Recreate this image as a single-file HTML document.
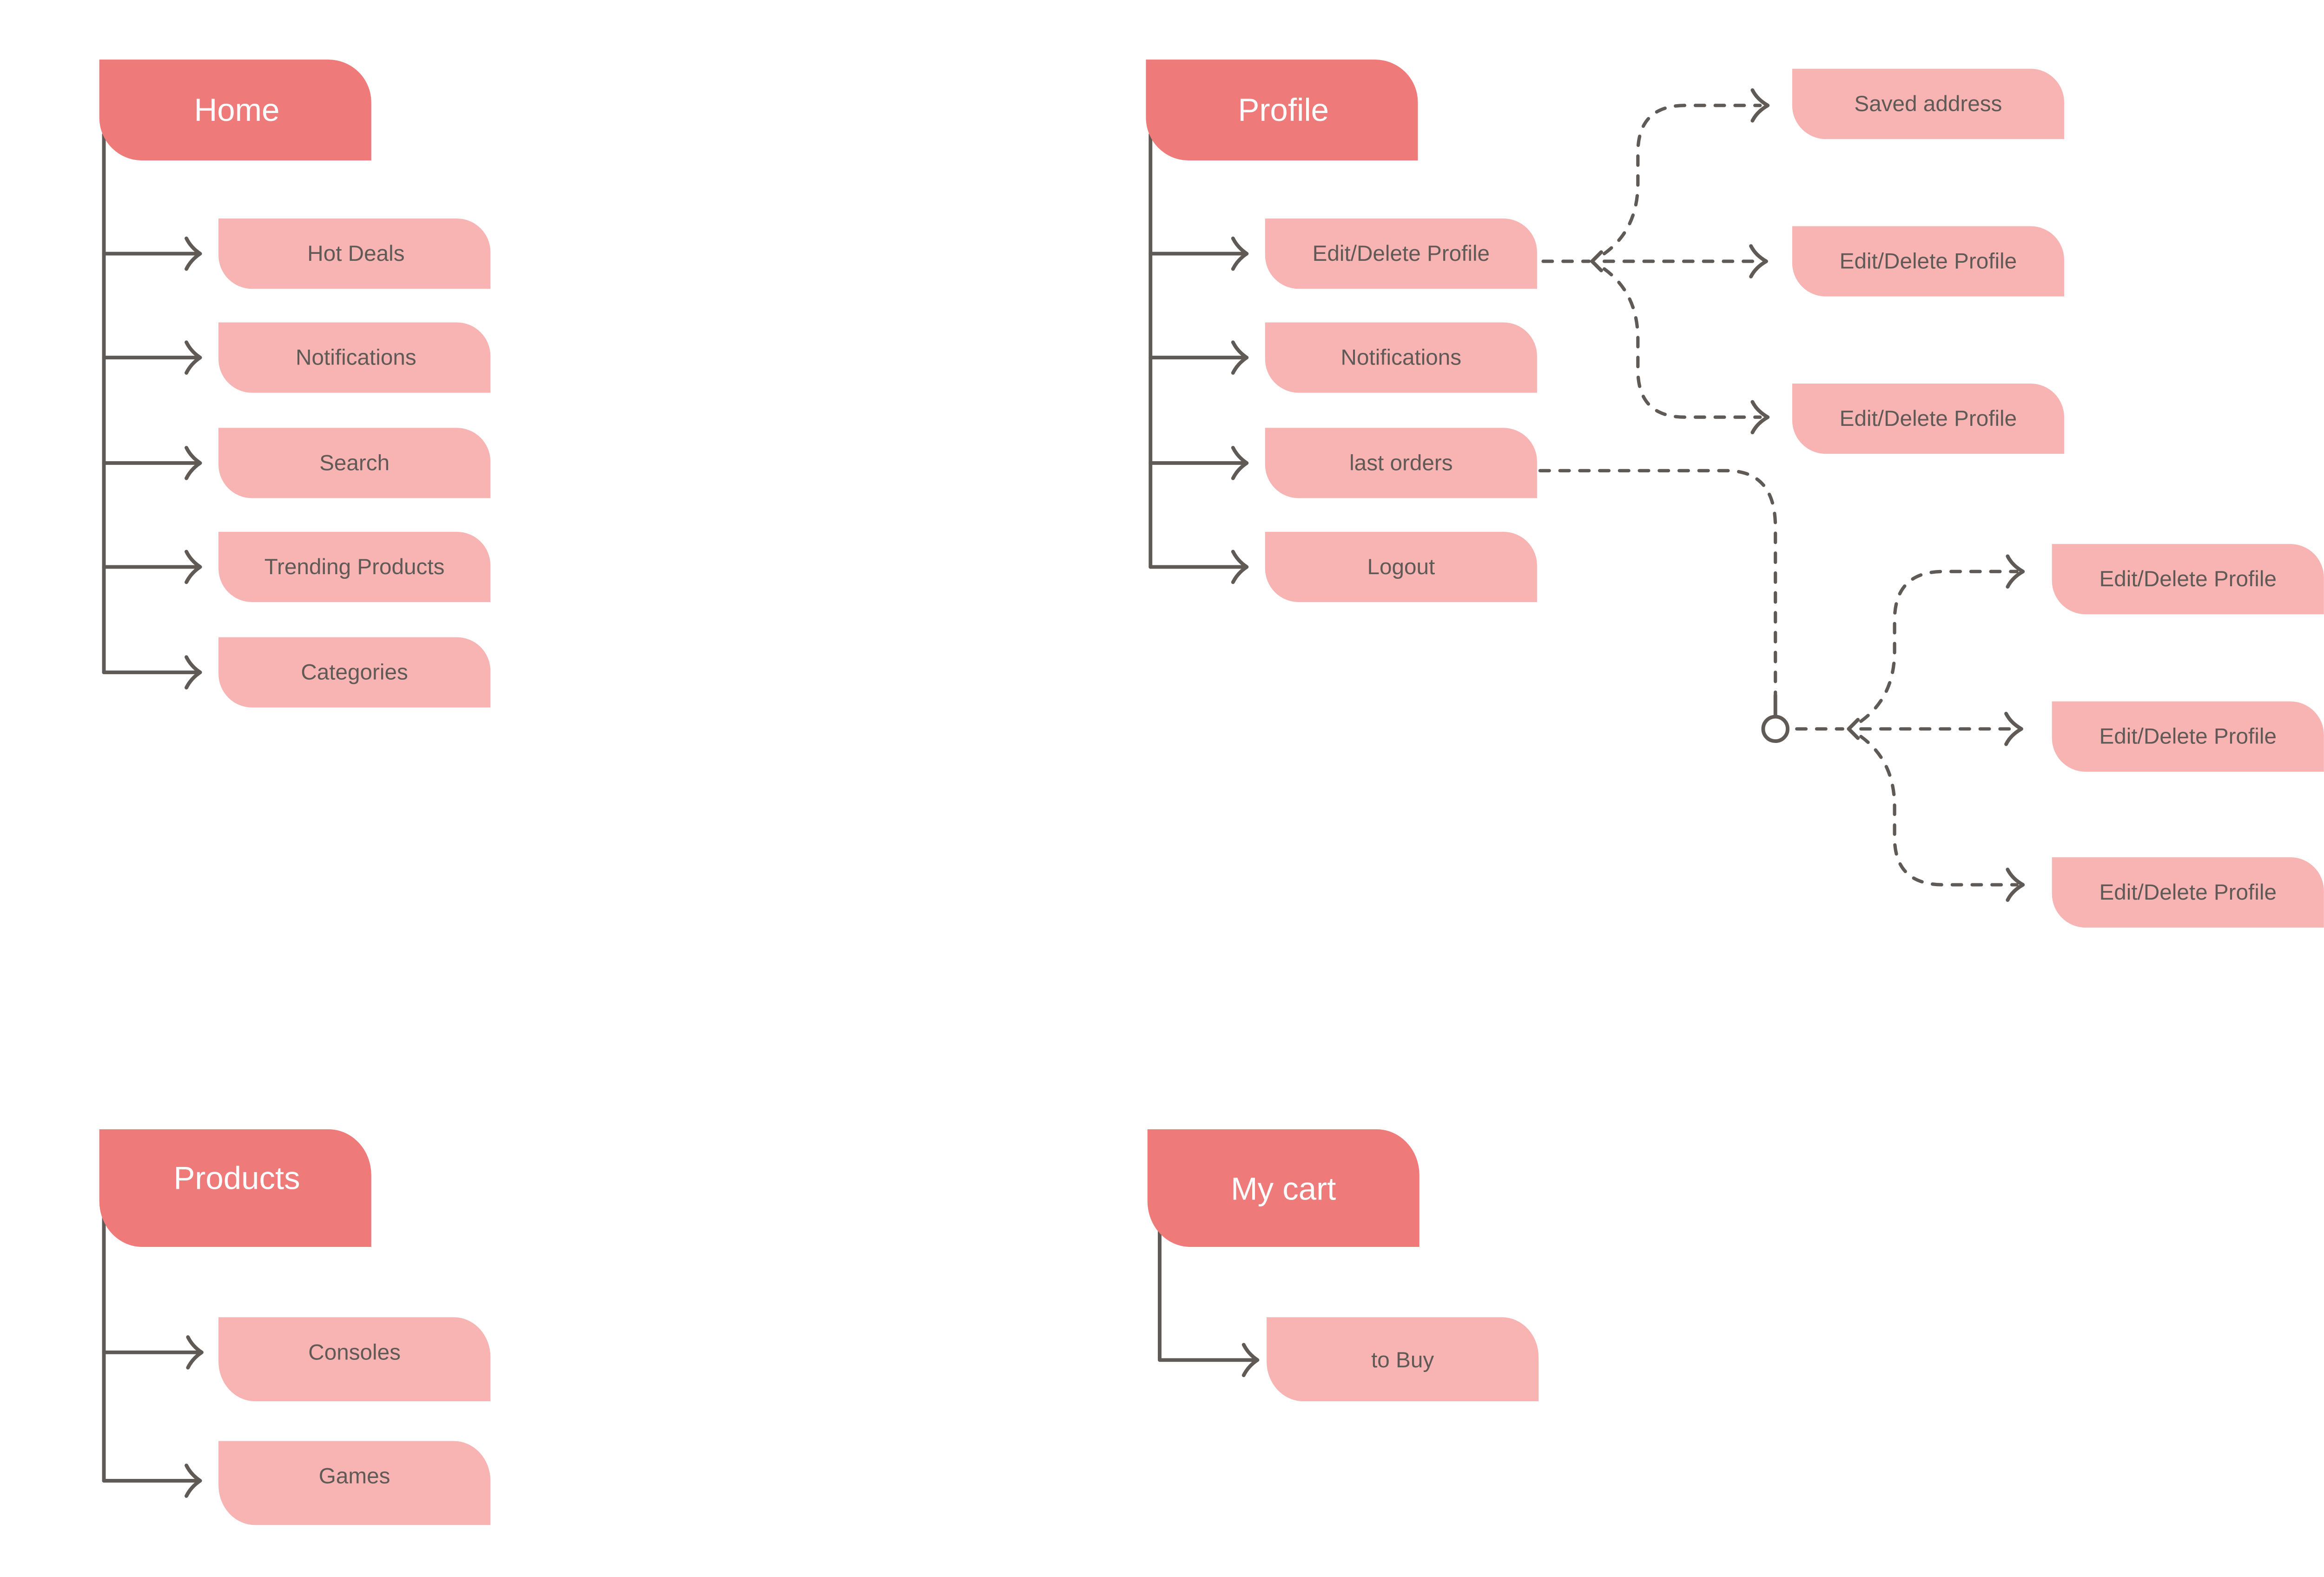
<!DOCTYPE html>
<html><head><meta charset="utf-8"><style>
html,body{margin:0;padding:0;background:#fff;}
svg{display:block;}
text{font-family:"Liberation Sans",sans-serif;}
</style></head><body>
<svg width="5128" height="3392" viewBox="0 0 1560 1032" preserveAspectRatio="none" xmlns="http://www.w3.org/2000/svg">
<defs>
<style>
.h{fill:#ee7a79}
.c{fill:#f8b3b3}
.ht{fill:#fff;font-size:21px;text-anchor:middle;dominant-baseline:central}
.ct{fill:#5f5a56;font-size:14.5px;text-anchor:middle;dominant-baseline:central}
.l{stroke:#5f5a56;stroke-width:2.4;fill:none;stroke-linecap:round;stroke-linejoin:round}
.d{stroke:#5f5a56;stroke-width:2.2;fill:none;stroke-linecap:round;stroke-dasharray:6 7}
</style>
</defs>
<!-- helper: box path: M x y H x+w-r A r r 0 0 1 x+w y+r V y+h H x+r A r r 0 0 1 x y+h-r Z -->

<!-- HOME -->
<path class="l" d="M68 88 V440"/>
<g class="l">
<path d="M68 166 H131 M122 156 Q125 162 131 166 Q125 170 122 176"/>
<path d="M68 234 H131 M122 224 Q125 230 131 234 Q125 238 122 244"/>
<path d="M68 303 H131 M122 293 Q125 299 131 303 Q125 307 122 313"/>
<path d="M68 371 H131 M122 361 Q125 367 131 371 Q125 375 122 381"/>
<path d="M68 440 H131 M122 430 Q125 436 131 440 Q125 444 122 450"/>
</g>
<path class="h" d="M65 39 H215 A28 28 0 0 1 243 67 V105 H93 A28 28 0 0 1 65 77 Z"/>
<text class="ht" x="155" y="72">Home</text>
<path class="c" d="M143 143 H299 A22 22 0 0 1 321 165 V189 H165 A22 22 0 0 1 143 167 Z"/>
<text class="ct" x="233" y="166">Hot Deals</text>
<path class="c" d="M143 211 H299 A22 22 0 0 1 321 233 V257 H165 A22 22 0 0 1 143 235 Z"/>
<text class="ct" x="233" y="234">Notifications</text>
<path class="c" d="M143 280 H299 A22 22 0 0 1 321 302 V326 H165 A22 22 0 0 1 143 304 Z"/>
<text class="ct" x="232" y="303">Search</text>
<path class="c" d="M143 348 H299 A22 22 0 0 1 321 370 V394 H165 A22 22 0 0 1 143 372 Z"/>
<text class="ct" x="232" y="371">Trending Products</text>
<path class="c" d="M143 417 H299 A22 22 0 0 1 321 439 V463 H165 A22 22 0 0 1 143 441 Z"/>
<text class="ct" x="232" y="440">Categories</text>

<!-- PROFILE -->
<path class="l" d="M753 88 V371"/>
<g class="l">
<path d="M753 166 H816 M807 156 Q810 162 816 166 Q810 170 807 176"/>
<path d="M753 234 H816 M807 224 Q810 230 816 234 Q810 238 807 244"/>
<path d="M753 303 H816 M807 293 Q810 299 816 303 Q810 307 807 313"/>
<path d="M753 371 H816 M807 361 Q810 367 816 371 Q810 375 807 381"/>
</g>
<path class="h" d="M750 39 H900 A28 28 0 0 1 928 67 V105 H778 A28 28 0 0 1 750 77 Z"/>
<text class="ht" x="840" y="72">Profile</text>
<path class="c" d="M828 143 H984 A22 22 0 0 1 1006 165 V189 H850 A22 22 0 0 1 828 167 Z"/>
<text class="ct" x="917" y="166">Edit/Delete Profile</text>
<path class="c" d="M828 211 H984 A22 22 0 0 1 1006 233 V257 H850 A22 22 0 0 1 828 235 Z"/>
<text class="ct" x="917" y="234">Notifications</text>
<path class="c" d="M828 280 H984 A22 22 0 0 1 1006 302 V326 H850 A22 22 0 0 1 828 304 Z"/>
<text class="ct" x="917" y="303">last orders</text>
<path class="c" d="M828 348 H984 A22 22 0 0 1 1006 370 V394 H850 A22 22 0 0 1 828 372 Z"/>
<text class="ct" x="917" y="371">Logout</text>

<!-- profile dashed fork 1 -->
<path class="d" d="M1010 171 H1040"/>
<path class="d" d="M1050 171 H1152"/>
<path class="d" d="M1050 166 Q1072 150 1072 120 V100 Q1072 69 1103 69 H1152"/>
<path class="d" d="M1050 176 Q1072 192 1072 222 V242 Q1072 273 1103 273 H1152"/>
<g class="l">
<path d="M1048 165 Q1044 169 1042 171 Q1044 173 1048 177"/>
<path d="M1147 59 Q1150 65 1157 69 Q1150 73 1147 79"/>
<path d="M1146 161 Q1149 167 1156 171 Q1149 175 1146 181"/>
<path d="M1147 263 Q1150 269 1157 273 Q1150 277 1147 283"/>
</g>
<path class="c" d="M1173 45 H1329 A22 22 0 0 1 1351 67 V91 H1195 A22 22 0 0 1 1173 69 Z"/>
<text class="ct" x="1262" y="68">Saved address</text>
<path class="c" d="M1173 148 H1329 A22 22 0 0 1 1351 170 V194 H1195 A22 22 0 0 1 1173 172 Z"/>
<text class="ct" x="1262" y="171">Edit/Delete Profile</text>
<path class="c" d="M1173 251 H1329 A22 22 0 0 1 1351 273 V297 H1195 A22 22 0 0 1 1173 275 Z"/>
<text class="ct" x="1262" y="274">Edit/Delete Profile</text>

<!-- last orders dashed -->
<path class="d" d="M1008 308 H1130 Q1162 308 1162 345 V455"/>
<path class="l" d="M1162 455 V468"/>
<circle cx="1162" cy="477" r="8" fill="#fff" stroke="#5f5a56" stroke-width="2.4"/>
<path class="d" d="M1176 477 H1206"/>
<path class="d" d="M1218 477 H1320"/>
<path class="d" d="M1218 472 Q1240 456 1240 426 V406 Q1240 374 1272 374 H1320"/>
<path class="d" d="M1218 482 Q1240 498 1240 528 V548 Q1240 579 1272 579 H1320"/>
<g class="l">
<path d="M1216 471 Q1212 475 1210 477 Q1212 479 1216 483"/>
<path d="M1314 364 Q1317 370 1324 374 Q1317 378 1314 384"/>
<path d="M1313 467 Q1316 473 1323 477 Q1316 481 1313 487"/>
<path d="M1314 569 Q1317 575 1324 579 Q1317 583 1314 589"/>
</g>
<path class="c" d="M1343 356 H1499 A22 22 0 0 1 1521 378 V402 H1365 A22 22 0 0 1 1343 380 Z"/>
<text class="ct" x="1432" y="379">Edit/Delete Profile</text>
<path class="c" d="M1343 459 H1499 A22 22 0 0 1 1521 481 V505 H1365 A22 22 0 0 1 1343 483 Z"/>
<text class="ct" x="1432" y="482">Edit/Delete Profile</text>
<path class="c" d="M1343 561 H1499 A22 22 0 0 1 1521 583 V607 H1365 A22 22 0 0 1 1343 585 Z"/>
<text class="ct" x="1432" y="584">Edit/Delete Profile</text>

<!-- PRODUCTS -->
<path class="l" d="M68 795 V969"/>
<g class="l">
<path d="M68 885 H132 M123 875 Q126 881 132 885 Q126 889 123 895"/>
<path d="M68 969 H131 M122 959 Q125 965 131 969 Q125 973 122 979"/>
</g>
<path class="h" d="M65 739 H215 A28 30 0 0 1 243 769 V816 H93 A28 30 0 0 1 65 786 Z"/>
<text class="ht" x="155" y="771">Products</text>
<path class="c" d="M143 862 H297 A24 26 0 0 1 321 888 V917 H167 A24 26 0 0 1 143 891 Z"/>
<text class="ct" x="232" y="885">Consoles</text>
<path class="c" d="M143 943 H297 A24 26 0 0 1 321 969 V998 H167 A24 26 0 0 1 143 972 Z"/>
<text class="ct" x="232" y="966">Games</text>

<!-- MY CART -->
<path class="l" d="M759 800 V890 H823 M814 880 Q817 886 823 890 Q817 894 814 900"/>
<path class="h" d="M751 739 H901 A28 30 0 0 1 929 769 V816 H779 A28 30 0 0 1 751 786 Z"/>
<text class="ht" x="840" y="778">My cart</text>
<path class="c" d="M829 862 H983 A24 26 0 0 1 1007 888 V917 H853 A24 26 0 0 1 829 891 Z"/>
<text class="ct" x="918" y="890">to Buy</text>
</svg>
</body></html>
